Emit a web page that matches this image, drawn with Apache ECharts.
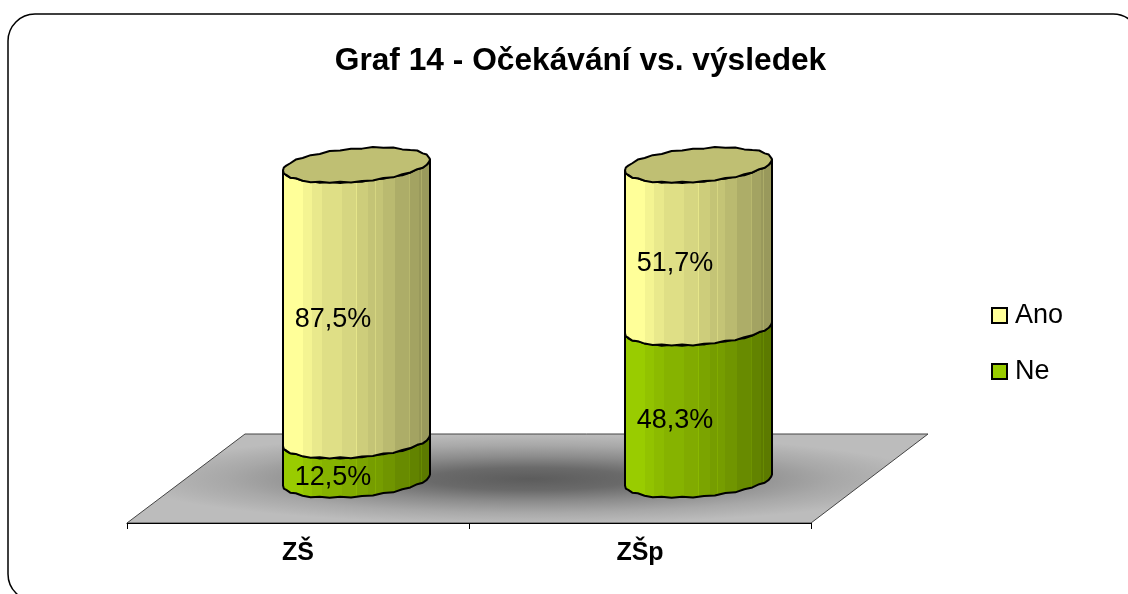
<!DOCTYPE html>
<html>
<head>
<meta charset="utf-8">
<style>html,body{margin:0;padding:0;background:#fff}#c{width:1128px;height:594px}</style>
<script src="https://cdn.jsdelivr.net/npm/echarts@6/dist/echarts.min.js"></script>
</head>
<body>
<div id="c"></div>
<script>
const categories = ['ZŠ', 'ZŠp'];
const neValues = [12.5, 48.3];
const anoValues = [87.5, 51.7];
const legendNames = ['Ano', 'Ne'];
const titleText = 'Graf 14 - Očekávání vs. výsledek';
const FONT = '"Liberation Sans", Arial, sans-serif';

const bandStops = [[0,1],[.14,.955],[.2,.915],[.27,.875],[.4,.84],[.495,.9],[.503,.805],[.58,.77],[.625,.84],[.632,.77],[.68,.73],[.76,.68],[.85,.72],[.857,.64],[.92,.6],[.93,.68],[.937,.6],[1,.58]];
const wobble = [0,.7,-.3,.5,-.6,.4,.8,-.4,.3,-.7,.6,-.2,.5,-.5,.7,-.3,.2,-.6,.5,.3,-.4,0];
const RX = 73.5, RY = 16.6, TILT = 5.5, LABEL_DX = -23.5, LABEL_DY = 17;
const FLOOR = [[127, 523], [245, 434], [928, 434], [811, 523]];
const SHADOW_X = 530, SHADOW_Y = 479, SHADOW_SCALE = 9;

function shade(rgb, f) { return 'rgb(' + rgb.map(c => Math.round(c * f)).join(',') + ')'; }
function bandGradient(rgb) {
  const stops = [];
  bandStops.forEach((s, i) => {
    const prev = i ? bandStops[i - 1][1] : s[1];
    stops.push({ offset: s[0], color: shade(rgb, prev) });
    stops.push({ offset: s[0], color: shade(rgb, s[1]) });
  });
  return new echarts.graphic.LinearGradient(0, 0, 1, 0, stops);
}
function arc(cx, cy, from, to) {
  const n = wobble.length - 1, pts = [];
  for (let i = 0; i <= n; i++) {
    const t = from + (to - from) * i / n;
    const w = (i === 0 || i === n) ? 0 : wobble[i];
    pts.push([cx + RX * Math.cos(t), cy + RY * Math.sin(t) - TILT * Math.cos(t) + w]);
  }
  return pts;
}
function makeSeries(name, rgb, values, bases) {
  return {
    name, type: 'custom', coordinateSystem: 'cartesian2d', xAxisIndex: 0, yAxisIndex: 0,
    itemStyle: { color: shade(rgb, 1), borderColor: '#000', borderWidth: 2 },
    encode: { x: 0, y: [1, 2] }, silent: true, animation: false, clip: false,
    data: values.map((v, i) => [i, bases[i], bases[i] + v, v]),
    renderItem(params, api) {
      const lo = api.coord([api.value(0), api.value(1)]);
      const hi = api.coord([api.value(0), api.value(2)]);
      const cx = lo[0];
      const lower = arc(cx, lo[1], Math.PI, 0);
      const upperEdge = arc(cx, hi[1], 0, Math.PI);
      const body = lower.concat(upperEdge);
      const children = [{
        type: 'polygon', shape: { points: body },
        style: { fill: bandGradient(rgb), stroke: '#000', lineWidth: 2, lineJoin: 'round' }
      }];
      if (api.value(2) >= 99.9) {
        const cap = arc(cx, hi[1], Math.PI, 0).concat(arc(cx, hi[1], 0, -Math.PI));
        children.push({
          type: 'polygon', shape: { points: cap },
          style: { fill: shade(rgb, .75), stroke: '#000', lineWidth: 2, lineJoin: 'round' }
        });
      }
      children.push({
        type: 'text', z2: 10,
        style: {
          x: cx + LABEL_DX, y: (lo[1] + hi[1]) / 2 + LABEL_DY,
          text: String(api.value(3)).replace('.', ',') + '%',
          fill: '#000', font: '27px ' + FONT, align: 'center', verticalAlign: 'middle'
        }
      });
      return { type: 'group', children };
    }
  };
}

const chart = echarts.init(document.getElementById('c'), null, { renderer: 'canvas' });
chart.setOption({
  animation: false,
  backgroundColor: '#fff',
  title: {
    text: titleText, left: 575.5, top: 40, textAlign: 'center',
    textStyle: { fontFamily: FONT, fontWeight: 'bold', fontSize: 31.7, color: '#000' }
  },
  legend: {
    data: legendNames, orient: 'vertical', left: 986, top: 297,
    icon: 'rect', itemWidth: 15, itemHeight: 15, itemGap: 29, selectedMode: false,
    textStyle: { fontFamily: FONT, fontSize: 27, color: '#000', padding: [0, 0, 0, 3] }
  },
  grid: [
    { left: 185.5, width: 684, top: 165, height: 315 },
    { left: 127, width: 684, top: 434, height: 89 }
  ],
  xAxis: [
    { gridIndex: 0, type: 'category', data: categories, show: false },
    {
      gridIndex: 1, type: 'category', data: categories,
      axisLine: { show: true, lineStyle: { color: '#000', width: 1 } },
      axisTick: { show: true, length: 6, alignWithLabel: false, lineStyle: { color: '#000' } },
      axisLabel: { margin: 18, fontFamily: FONT, fontWeight: 'bold', fontSize: 25, color: '#000' }
    }
  ],
  yAxis: [
    { gridIndex: 0, type: 'value', min: 0, max: 100, show: false },
    { gridIndex: 1, type: 'value', min: 0, max: 100, show: false }
  ],
  series: [
    makeSeries('Ne', [153, 204, 0], neValues, neValues.map(() => 0)),
    makeSeries('Ano', [255, 255, 153], anoValues, neValues)
  ],
  graphic: [
    {
      type: 'rect', z: -10, silent: true,
      shape: { x: 8, y: 14, width: 1132, height: 587, r: 27 },
      style: { fill: '#fff', stroke: '#000', lineWidth: 1.5 }
    },
    {
      type: 'polygon', z: -9, silent: true,
      x: SHADOW_X, y: SHADOW_Y, scaleX: SHADOW_SCALE, scaleY: 1,
      shape: { points: FLOOR.map(p => [(p[0] - SHADOW_X) / SHADOW_SCALE, p[1] - SHADOW_Y]) },
      style: {
        fill: new echarts.graphic.RadialGradient(0, 0, 45, [
          { offset: 0, color: '#5c5c5c' },
          { offset: .25, color: '#6a6a6a' },
          { offset: .5, color: '#8c8c8c' },
          { offset: .75, color: '#a8a8a8' },
          { offset: 1, color: '#bcbcbc' }
        ], true)
      }
    },
    {
      type: 'polygon', z: -8, silent: true,
      shape: { points: FLOOR },
      style: { fill: 'none', stroke: '#444', lineWidth: 1 }
    }
  ]
});
</script>
</body>
</html>
